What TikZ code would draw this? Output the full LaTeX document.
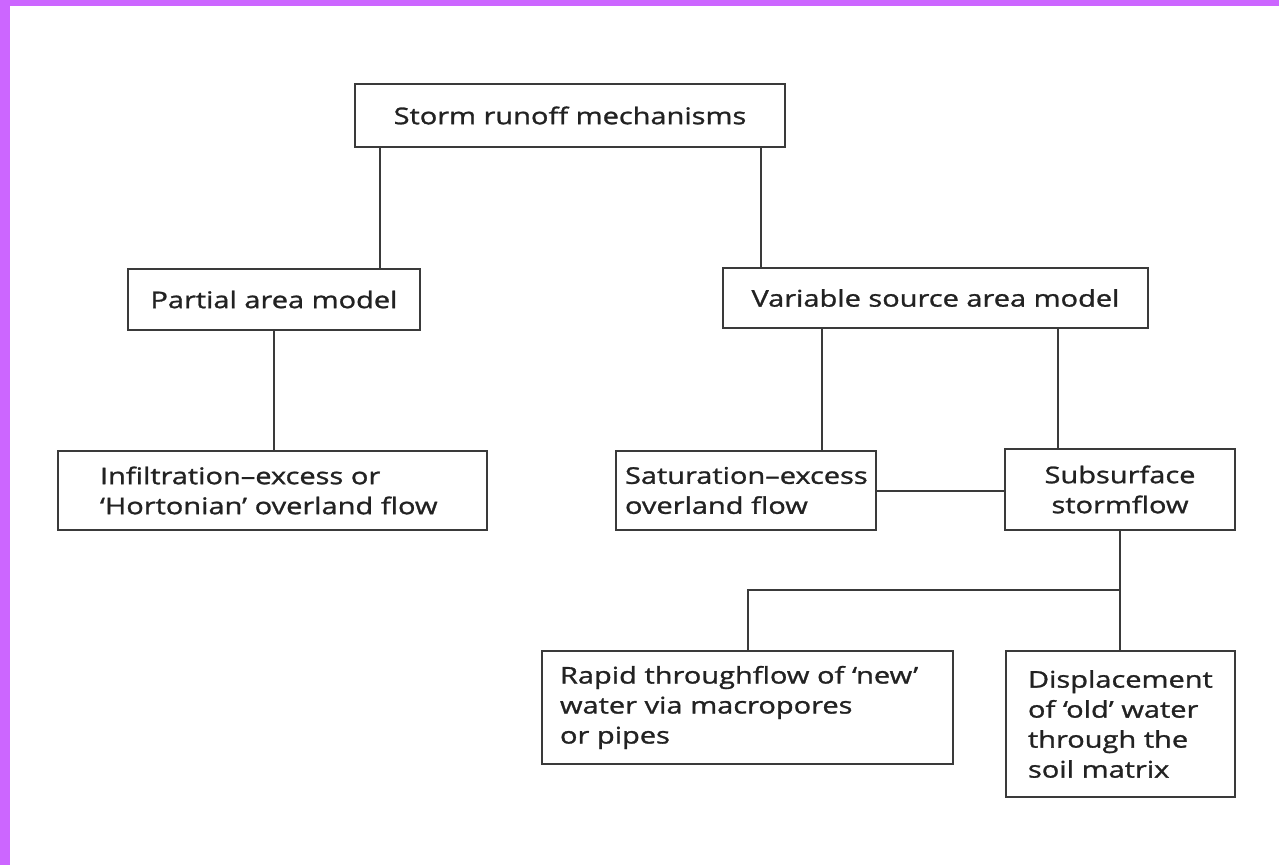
\documentclass[tikz,border=0pt]{standalone}
\usepackage{fontspec}
\setmainfont{Open Sans}[FakeStretch=1.26, FakeBold=1.2]
\definecolor{band}{HTML}{CC66FF}
\definecolor{ink}{HTML}{222222}
\definecolor{rule}{HTML}{3A3A3A}
\hyphenpenalty=10000
\exhyphenpenalty=10000
\begin{document}
\begin{tikzpicture}[x=1pt,y=-1pt,
  box/.style={draw=rule, line width=2pt, inner ysep=0pt, text=ink,
    font=\fontsize{23}{30}\selectfont},
  link/.style={draw=rule, line width=2pt}]
\useasboundingbox (0,0) rectangle (1279,865);
\fill[white] (0,0) rectangle (1279,865);
\fill[band] (0,0) rectangle (1279,6);
\fill[band] (0,0) rectangle (10,865);

\node[box, minimum width=430pt, minimum height=63pt, align=center] (top) at (570,115.5) {Storm runoff mechanisms};
\node[box, minimum width=292pt, minimum height=61pt, align=center] (partial) at (274,299.5) {Partial area model};
\node[box, minimum width=425pt, minimum height=60pt, align=center] (variable) at (935.5,298) {Variable source area model};
\node[box, minimum width=429pt, minimum height=79pt, inner xsep=42pt, text width=345pt, align=left] (infil) at (272.5,490.5) {Infiltration--excess or\\`Hortonian' overland flow};
\node[box, minimum width=260pt, minimum height=79pt, inner xsep=9pt, text width=242pt, align=left] (sat) at (746,490.5) {Saturation--excess\\overland flow};
\node[box, minimum width=230pt, minimum height=81pt, align=center] (sub) at (1120,489.5) {Subsurface\\stormflow};
\node[box, minimum width=411pt, minimum height=113pt, inner xsep=18pt, text width=375pt, align=left] (rapid) at (747.5,707.5) {Rapid throughflow of `new'\\water via macropores\\or pipes};
\node[box, minimum width=229pt, minimum height=146pt, inner xsep=22pt, text width=185pt, align=left] (disp) at (1120.5,724) {Displacement\\of `old' water\\through the\\soil matrix};

\coordinate (xa) at (380,0);
\coordinate (xb) at (761,0);
\coordinate (xc) at (822,0);
\coordinate (xd) at (1058,0);
\coordinate (j) at (1120,590);

\draw[link] (top.south -| xa) -- (partial.north -| xa);
\draw[link] (top.south -| xb) -- (variable.north -| xb);
\draw[link] (partial.south) -- (infil.north -| partial.south);
\draw[link] (variable.south -| xc) -- (sat.north -| xc);
\draw[link] (variable.south -| xd) -- (sub.north -| xd);
\draw[link] (sat.east) -- (sat.east -| sub.west);
\draw[link] (sub.south -| j) -- (disp.north -| j);
\draw[link] (rapid.north) |- (j);
\end{tikzpicture}
\end{document}
